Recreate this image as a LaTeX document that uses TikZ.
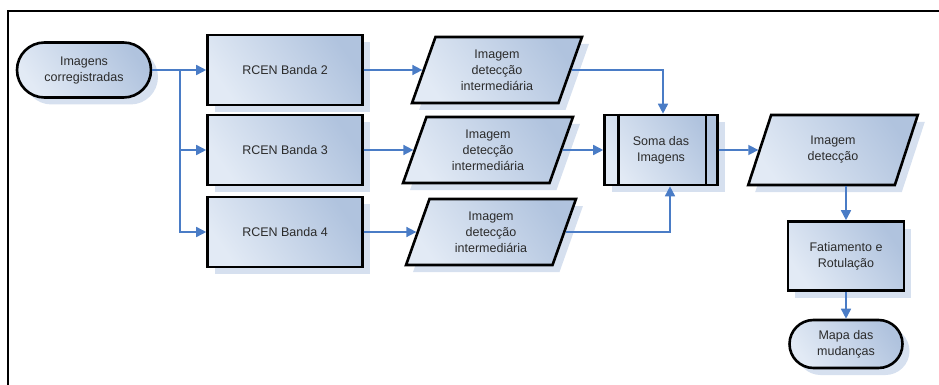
\documentclass[tikz,border=0pt]{standalone}
\usepackage{fontspec}
\setmainfont{Liberation Sans}
\usetikzlibrary{shapes.geometric,shapes.misc,arrows.meta,shadows}
\definecolor{fillA}{HTML}{E2EAF5}
\definecolor{fillB}{HTML}{B0C3DE}
\definecolor{shadowblue}{HTML}{D6E0EF}
\definecolor{connblue}{HTML}{4A7CC6}
\definecolor{txt}{HTML}{2B2B2B}
\tikzset{
  base/.style={draw=black, line width=2.6pt, left color=fillA, right color=fillB, shading angle=125,
    text=txt, align=center, font=\fontsize{12.5}{16}\selectfont, inner sep=2pt,
    drop shadow={shadow xshift=7pt, shadow yshift=-7pt, fill=shadowblue, opacity=1}},
  procbox/.style={base, rectangle, minimum width=155pt, minimum height=70pt},
  termbox/.style={base, rounded rectangle, rounded rectangle arc length=180},
  databox/.style={base, trapezium, trapezium left angle=72, trapezium right angle=108,
    trapezium stretches=true, minimum width=170pt, minimum height=66pt},
  conn/.style={draw=connblue, line width=1.6pt, -{Triangle[length=10pt,width=10pt]}},
  connplain/.style={draw=connblue, line width=1.6pt},
}
\begin{document}
\begin{tikzpicture}[x=1pt,y=-1pt]
\useasboundingbox (0,0) rectangle (939,385);
\draw[line width=2pt] (8,386) -- (8,11) -- (940,11);
\node[termbox, minimum width=138pt, minimum height=55pt] (start) at (84,70) {Imagens\\corregistradas};
\node[procbox] (rc2) at (285,70) {RCEN Banda 2};
\node[procbox] (rc3) at (285,150) {RCEN Banda 3};
\node[procbox] (rc4) at (285,232) {RCEN Banda 4};
\node[databox] (p1) at (497,70) {Imagem\\detecção\\intermediária};
\node[databox] (p2) at (488,150) {Imagem\\detecção\\intermediária};
\node[databox] (p3) at (491,232) {Imagem\\detecção\\intermediária};
\node[procbox, minimum width=113pt, minimum height=70pt] (soma) at (661,150) {Soma das\\Imagens};
\draw[line width=2.6pt] ([xshift=15pt]soma.north west) -- ([xshift=15pt]soma.south west);
\draw[line width=2.6pt] ([xshift=-13pt]soma.north east) -- ([xshift=-13pt]soma.south east);
\node[databox, minimum height=70pt] (p4) at (833,150) {Imagem\\detecção};
\node[procbox, minimum width=116pt, minimum height=69pt] (fat) at (846,256) {Fatiamento e\\Rotulação};
\node[termbox, minimum width=117pt, minimum height=48pt] (mapa) at (846,344) {Mapa das\\mudanças};
\coordinate (trunk) at (180,70);
\draw[conn] (start.east) -- (rc2.west);
\draw[conn] (trunk) |- (rc3.west);
\draw[conn] (trunk) |- (rc4.west);
\draw[conn] (rc2.east) -- (p1.west);
\draw[conn] (rc3.east) -- (p2.west);
\draw[conn] (rc4.east) -- (p3.west);
\draw[conn] (p1.east) -| ([xshift=2pt]soma.north);
\draw[conn] (p2.east) -- (soma.west);
\draw[conn] (p3.east) -| ([xshift=9pt]soma.south);
\draw[conn] (soma.east) -- (p4.west);
\draw[conn] (p4.south -| fat.north) -- (fat.north);
\draw[conn] (fat.south) -- (mapa.north);
\end{tikzpicture}
\end{document}
